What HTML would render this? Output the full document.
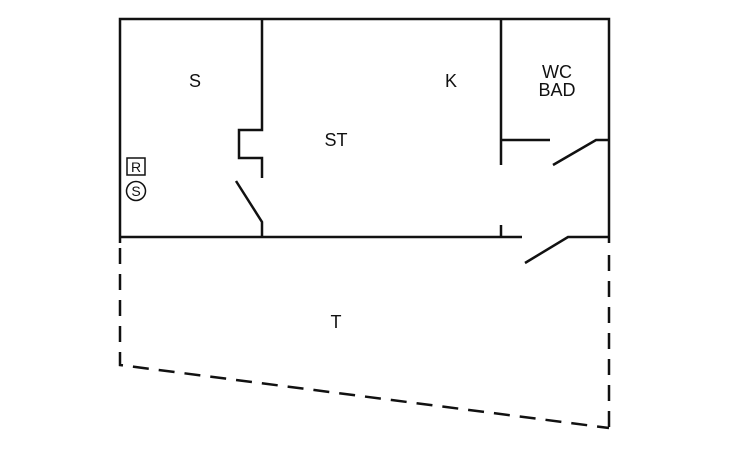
<!DOCTYPE html>
<html><head><style>body{margin:0;background:#fff}svg{display:block}</style></head><body>
<svg width="730" height="450" xmlns="http://www.w3.org/2000/svg" font-family="Liberation Sans, sans-serif" fill="none" stroke="#111" stroke-width="2.5">
<path d="M120 243V19H609V243"/>
<path d="M262 19V130H239V158H262V178"/>
<path d="M236 181L262 222V237"/>
<path d="M120 237H522"/>
<path d="M501 225V237"/>
<path d="M501 19V165M501 140H550"/>
<path d="M553 165L596 140H609"/>
<path d="M525 263L568 237H609"/>
<g stroke-dasharray="16 10">
<path d="M609 255V428"/>
<path d="M120 248V365L609 428"/>
</g>
<rect x="127" y="158" width="18" height="17" stroke-width="1.5"/>
<circle cx="136" cy="191" r="9.5" stroke-width="1.5"/>
<g fill="#111" stroke="none" font-size="18" text-anchor="middle">
<text x="195" y="87">S</text>
<text x="451" y="87">K</text>
<text x="557" y="78">WC</text>
<text x="557" y="96">BAD</text>
<text x="336" y="146">ST</text>
<text x="336" y="328">T</text>
<text x="136" y="172" font-size="14">R</text>
<text x="136" y="196" font-size="14">S</text>
</g>
</svg>
</body></html>
